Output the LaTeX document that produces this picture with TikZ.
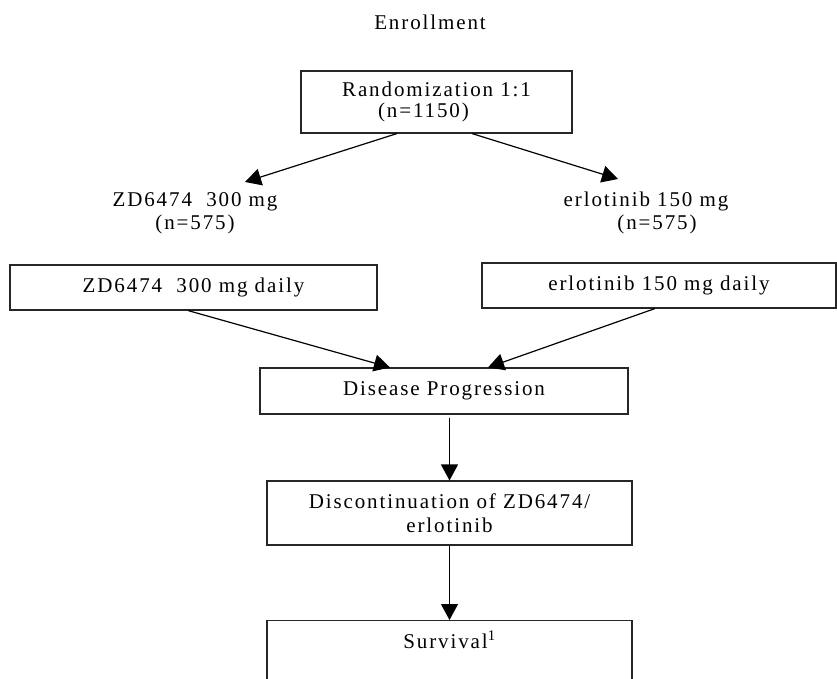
\documentclass[tikz,border=0pt]{standalone}
\usepackage{fontspec}
\setmainfont{Liberation Serif}[LetterSpace=9]
\usetikzlibrary{arrows.meta}

\begin{document}
\begin{tikzpicture}[x=1pt, y=-1pt,
    box/.style={draw=black!85, line width=1.1pt, align=center, inner sep=0pt},
    arr/.style={-{Triangle[length=16pt, width=17pt]}, line width=1.2pt},
    every node/.style={font=\fontsize{21}{24}\selectfont}]
    \clip (0,0) rectangle (837,679);

    % Top
    \node (enrol) at (430,22) {Enrollment};
    \node[box, minimum width=271pt, minimum height=62pt] (rand) at (436.5,102)
        {Randomization 1:1\\[-3pt]\hspace*{-26pt}(n=1150)};

    % Arms
    \node[align=center] (zdlab) at (195,213) {ZD6474\ \ 300 mg\\[-1pt](n=575)};
    \node[align=center] (erllab) at (646,213) {erlotinib 150 mg\\[-1pt]\hspace*{22pt}(n=575)};
    \draw[arr] ([xshift=-39.5pt]rand.south) -- ([xshift=50pt, yshift=31pt]zdlab.center);
    \draw[arr] ([xshift=35.5pt]rand.south) -- ([xshift=-28pt, yshift=34pt]erllab.center);

    % Treatment
    \node[box, minimum width=367pt, minimum height=45pt] (zdbox) at (193.5,287.5) {ZD6474\ \ 300 mg daily};
    \node[box, minimum width=354pt, minimum height=45pt] (erlbox) at (659,285.5) {erlotinib 150 mg daily};

    % Progression
    \node[box, minimum width=368pt, minimum height=46pt] (dis) at (444,391) {Disease Progression};
    \draw[arr] ([xshift=-5.5pt]zdbox.south) -- ([xshift=-54pt]dis.north);
    \draw[arr] ([xshift=-4pt]erlbox.south) -- ([xshift=44pt]dis.north);

    % Discontinuation
    \node[box, minimum width=365pt, minimum height=64pt] (disc) at (449.5,513)
        {Discontinuation of ZD6474/\\erlotinib};
    \draw[arr] ([yshift=-3pt]disc.north |- dis.south) -- (disc.north);

    % Survival
    \node[box, minimum width=365pt, minimum height=90pt, anchor=north] (surv) at (449.5,620) {};
    \node (survtxt) at ([yshift=-20pt]surv.north) {Survival\textsuperscript{1}};
    \draw[arr] (disc.south) -- (surv.north);
\end{tikzpicture}
\end{document}
